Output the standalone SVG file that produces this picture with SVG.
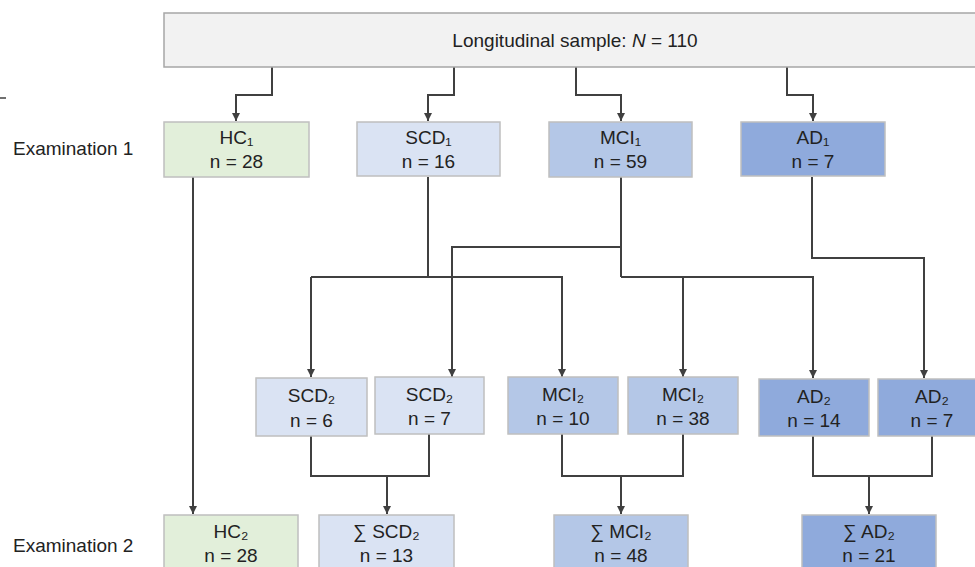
<svg xmlns="http://www.w3.org/2000/svg" width="975" height="567" viewBox="0 0 975 567">
<style>
text{font-family:"Liberation Sans",Arial,sans-serif;font-size:19px;fill:#222;}
.t{text-anchor:middle;}
.box{stroke:#bfbfbf;stroke-width:1.5;}
.hc{fill:#e2efda;}
.scd{fill:#dae3f3;}
.mci{fill:#b4c7e7;}
.ad{fill:#8faadc;}
.top{fill:#f2f2f2;stroke:#a6a6a6;stroke-width:1.5;}
.c{fill:none;stroke:#404040;stroke-width:2;}
.ca{fill:none;stroke:#404040;stroke-width:2;marker-end:url(#ah);}
</style>
<defs>
<marker id="ah" markerUnits="userSpaceOnUse" markerWidth="10" markerHeight="10" refX="9" refY="5" orient="auto" viewBox="0 0 10 10">
<path d="M1,1 L9,5 L1,9 Z" fill="#404040"/>
</marker>
</defs>
<rect width="975" height="567" fill="#ffffff"/>
<line x1="0" y1="98" x2="6" y2="98" stroke="#404040" stroke-width="1.5"/>
<text x="13" y="155">Examination 1</text>
<text x="13" y="552">Examination 2</text>

<g id="connectors">
<path class="ca" d="M272,67 V95 H236 V121"/>
<path class="ca" d="M454,67 V95 H428 V121"/>
<path class="ca" d="M576,67 V95 H621 V121"/>
<path class="ca" d="M787,67 V95 H813 V121"/>
<path class="ca" d="M193,177 V514"/>
<path class="c" d="M428,177 V277"/>
<path class="ca" d="M311,277 V377"/>
<path class="ca" d="M311,277 H562 V377"/>
<path class="c" d="M621,177 V277"/>
<path class="ca" d="M621,247 H452 V377"/>
<path class="ca" d="M621,277 H813 V378"/>
<path class="ca" d="M683,277 V377"/>
<path class="ca" d="M812,177 V258 H924 V378"/>
<path class="c" d="M311,436 V476 H429 V434"/>
<path class="ca" d="M387,476 V514"/>
<path class="c" d="M562,434 V476 H683 V434"/>
<path class="ca" d="M621,476 V514"/>
<path class="c" d="M813,436 V476 H932 V436"/>
<path class="ca" d="M869,476 V514"/>
</g>

<g id="top"><rect class="top" x="164" y="13" width="830" height="54"/>
<text class="t" x="575" y="47">Longitudinal sample: <tspan font-style="italic">N</tspan> = 110</text></g>

<g id="hc1"><rect class="box hc" x="164" y="122" width="145" height="55"/><text class="t" x="236.5" y="144">HC₁</text><text class="t" x="236.5" y="168">n = 28</text></g>
<g id="scd1"><rect class="box scd" x="357" y="122" width="143" height="54"/><text class="t" x="428.5" y="144">SCD₁</text><text class="t" x="428.5" y="168">n = 16</text></g>
<g id="mci1"><rect class="box mci" x="549" y="122" width="143" height="55"/><text class="t" x="620.5" y="144">MCI₁</text><text class="t" x="620.5" y="168">n = 59</text></g>
<g id="ad1"><rect class="box ad" x="741" y="122" width="144" height="54"/><text class="t" x="813" y="144">AD₁</text><text class="t" x="813" y="168">n = 7</text></g>

<g id="scd2a"><rect class="box scd" x="256" y="378" width="111" height="58"/><text class="t" x="311.5" y="402">SCD₂</text><text class="t" x="311.5" y="427">n = 6</text></g>
<g id="scd2b"><rect class="box scd" x="375" y="377" width="109" height="57"/><text class="t" x="429.5" y="401">SCD₂</text><text class="t" x="429.5" y="425">n = 7</text></g>
<g id="mci2a"><rect class="box mci" x="508" y="377" width="110" height="57"/><text class="t" x="563" y="401">MCI₂</text><text class="t" x="563" y="425">n = 10</text></g>
<g id="mci2b"><rect class="box mci" x="628" y="377" width="110" height="57"/><text class="t" x="683" y="401">MCI₂</text><text class="t" x="683" y="425">n = 38</text></g>
<g id="ad2a"><rect class="box ad" x="759" y="379" width="110" height="57"/><text class="t" x="814" y="403">AD₂</text><text class="t" x="814" y="427">n = 14</text></g>
<g id="ad2b"><rect class="box ad" x="878" y="379" width="110" height="57"/><text class="t" x="932" y="403">AD₂</text><text class="t" x="932" y="427">n = 7</text></g>

<g id="hc2"><rect class="box hc" x="164" y="515" width="134" height="60"/><text class="t" x="231" y="538">HC₂</text><text class="t" x="231" y="562">n = 28</text></g>
<g id="sumscd2"><rect class="box scd" x="319" y="515" width="135" height="60"/><text class="t" x="386.5" y="538">∑ SCD₂</text><text class="t" x="386.5" y="562">n = 13</text></g>
<g id="summci2"><rect class="box mci" x="554" y="515" width="134" height="60"/><text class="t" x="621" y="538">∑ MCI₂</text><text class="t" x="621" y="562">n = 48</text></g>
<g id="sumad2"><rect class="box ad" x="802" y="515" width="134" height="60"/><text class="t" x="869" y="538">∑ AD₂</text><text class="t" x="869" y="562">n = 21</text></g>
</svg>
